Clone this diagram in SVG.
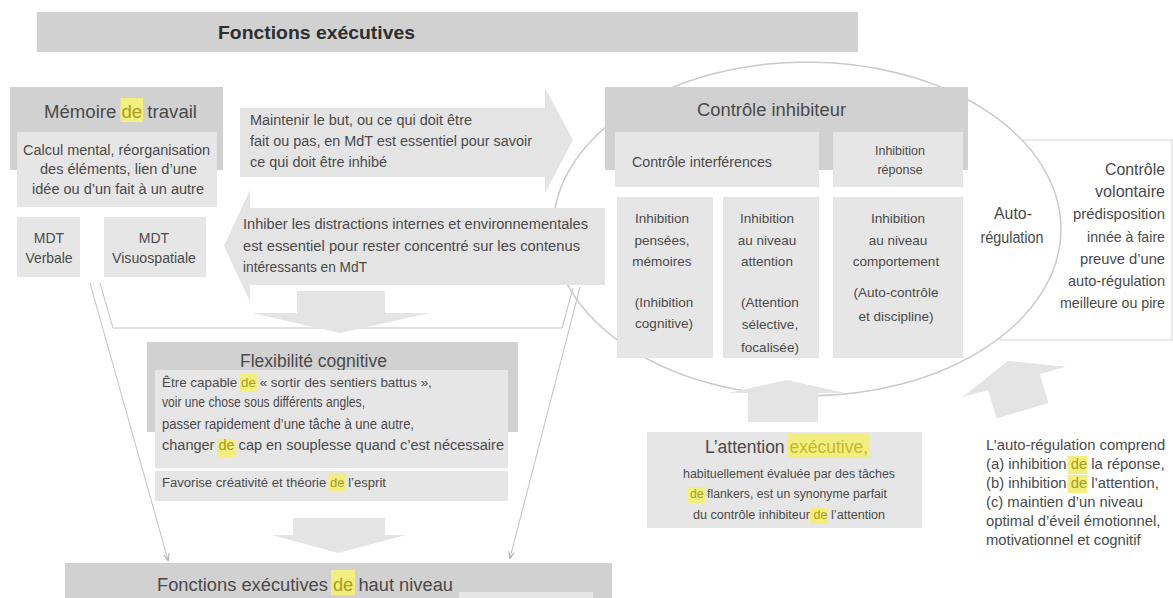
<svg xmlns="http://www.w3.org/2000/svg" width="1173" height="598" viewBox="0 0 1173 598">
<defs>
<style>
text{font-family:"Liberation Sans",Arial,sans-serif;fill:#4a4a4a;font-size:14px}
.dark{fill:#d1d1d1}
.light{fill:#e6e6e6}
.blk{fill:#e4e4e4}
.hl{fill:#f3ee80}
.hlt{fill:#a99d1c}
.h17{font-size:18px}
.h15{font-size:16px}
.h14{font-size:14.5px}
.h12{font-size:12.5px}
.m{font-size:13.5px}
.s11{font-size:12.5px}
.n{font-size:14.8px}
.c{text-anchor:middle}
.e{text-anchor:end}
.thin{fill:none;stroke:#c2c2c2;stroke-width:1}
</style>
<marker id="ah" viewBox="0 0 10 10" refX="9" refY="5" markerWidth="7" markerHeight="7" orient="auto-start-reverse" markerUnits="userSpaceOnUse">
<path d="M0,1 L10,5 L0,9" fill="none" stroke="#b0b0b0" stroke-width="1.5"/>
</marker>
</defs>
<rect width="1173" height="598" fill="#ffffff"/>

<g id="controle-volontaire">
<rect x="1000" y="140" width="172" height="200" fill="#ffffff" stroke="#d6d6d6" stroke-width="1"/>
</g>

<g id="autoregulation-ellipse">
<ellipse cx="807" cy="229" rx="254" ry="167" fill="#ffffff" stroke="#cacaca" stroke-width="1.5"/>
<text class="c h15" x="1013" y="219" textLength="38" lengthAdjust="spacingAndGlyphs">Auto-</text>
<text class="c h15" x="1012" y="243" textLength="63" lengthAdjust="spacingAndGlyphs">régulation</text>
</g>

<g id="controle-volontaire-text">
<text class="e" style="font-size:17px" x="1165" y="175" textLength="60" lengthAdjust="spacingAndGlyphs">Contrôle</text>
<text class="e" style="font-size:17px" x="1165" y="197" textLength="70" lengthAdjust="spacingAndGlyphs">volontaire</text>
<text class="e h14" x="1165" y="219" textLength="92" lengthAdjust="spacingAndGlyphs">prédisposition</text>
<text class="e h14" x="1165" y="242" textLength="78" lengthAdjust="spacingAndGlyphs">innée à faire</text>
<text class="e h14" x="1165" y="264" textLength="85" lengthAdjust="spacingAndGlyphs">preuve d’une</text>
<text class="e h14" x="1165" y="286" textLength="97" lengthAdjust="spacingAndGlyphs">auto-régulation</text>
<text class="e h14" x="1165" y="308" textLength="105" lengthAdjust="spacingAndGlyphs">meilleure ou pire</text>
</g>

<g id="connectors">
<path class="thin" d="M100,283 L113,328 L562,328 L573,288"/>
<line class="thin" x1="90" y1="283" x2="168" y2="560" marker-end="url(#ah)"/>
<line class="thin" x1="580" y1="287" x2="510" y2="558" marker-end="url(#ah)"/>
<polygon class="blk" points="297,291 385,291 385,313 430,313 340,333 252,313 297,313"/>
<polygon class="blk" points="293,518 385,518 385,535 406,535 338,553 272,535 293,535"/>
<polygon class="blk" points="748,422 748,393 728,393 787,380 845,393 818,393 818,422"/>
<polygon class="blk" transform="rotate(-16.5 1014 382)" points="960,382 1014,360 1068,382 1041,382 1041,412 987,412 987,382"/>
</g>

<g id="title">
<rect x="37" y="12" width="821" height="40" class="dark"/>
<text x="218" y="39" font-weight="bold" style="font-size:18.5px;fill:#2e2e2e" textLength="197" lengthAdjust="spacingAndGlyphs">Fonctions exécutives</text>
</g>

<g id="memoire-travail">
<rect x="10" y="87" width="213" height="83" class="dark"/>
<rect x="120.5" y="98" width="22.5" height="24" class="hl"/>
<text class="h17" x="44" y="118" textLength="153" lengthAdjust="spacingAndGlyphs">Mémoire <tspan class="hlt">de</tspan> travail</text>
<rect x="17" y="132" width="200" height="75" class="light"/>
<text x="23" y="155" textLength="187" lengthAdjust="spacingAndGlyphs">Calcul mental, réorganisation</text>
<text x="40" y="174" textLength="157" lengthAdjust="spacingAndGlyphs">des éléments, lien d’une</text>
<text x="32" y="194" textLength="172" lengthAdjust="spacingAndGlyphs">idée ou d’un fait à un autre</text>
</g>

<g id="mdt-verbale">
<rect x="17" y="217" width="63" height="60" class="light"/>
<text class="c" x="49" y="243">MDT</text>
<text class="c" x="49" y="263" textLength="47" lengthAdjust="spacingAndGlyphs">Verbale</text>
</g>

<g id="mdt-visuospatiale">
<rect x="104" y="217" width="102" height="60" class="light"/>
<text class="c" x="154" y="243">MDT</text>
<text class="c" x="154" y="263" textLength="84" lengthAdjust="spacingAndGlyphs">Visuospatiale</text>
</g>

<g id="arrow-maintenir">
<polygon class="blk" points="240,108 545,108 545,88 573,140 545,193 545,177 240,177"/>
<text x="250" y="125" textLength="222" lengthAdjust="spacingAndGlyphs">Maintenir le but, ou ce qui doit être</text>
<text x="250" y="146" textLength="282" lengthAdjust="spacingAndGlyphs">fait ou pas, en MdT est essentiel pour savoir</text>
<text x="250" y="167" textLength="137" lengthAdjust="spacingAndGlyphs">ce qui doit être inhibé</text>
</g>

<g id="arrow-inhiber">
<polygon class="blk" points="224,246 250,190 250,208 605,208 605,285 250,285 250,302"/>
<text x="243" y="229" textLength="345" lengthAdjust="spacingAndGlyphs">Inhiber les distractions internes et environnementales</text>
<text x="243" y="251" textLength="337" lengthAdjust="spacingAndGlyphs">est essentiel pour rester concentré sur les contenus</text>
<text x="243" y="272" textLength="124" lengthAdjust="spacingAndGlyphs">intéressants en MdT</text>
</g>

<g id="controle-inhibiteur">
<rect x="605" y="87" width="363" height="83" class="dark"/>
<text class="h17" x="697" y="116" textLength="149" lengthAdjust="spacingAndGlyphs">Contrôle inhibiteur</text>
</g>

<g id="controle-interferences">
<rect x="615" y="132" width="204" height="55" class="light"/>
<text x="632" y="167" textLength="140" lengthAdjust="spacingAndGlyphs">Contrôle interférences</text>
</g>

<g id="inhibition-reponse">
<rect x="833" y="132" width="130" height="55" class="light"/>
<text class="c h12" x="900" y="155">Inhibition</text>
<text class="c h12" x="900" y="174">réponse</text>
</g>

<g id="inhibition-pensees">
<rect x="617" y="197" width="96" height="161" class="light"/>
<text class="c m" x="662" y="223">Inhibition</text>
<text class="c m" x="662" y="245">pensées,</text>
<text class="c m" x="662" y="266">mémoires</text>
<text class="c m" x="664" y="307">(Inhibition</text>
<text class="c m" x="664" y="328">cognitive)</text>
</g>

<g id="inhibition-attention">
<rect x="723" y="197" width="96" height="161" class="light"/>
<text class="c m" x="767" y="223">Inhibition</text>
<text class="c m" x="767" y="245">au niveau</text>
<text class="c m" x="767" y="266">attention</text>
<text class="c m" x="770" y="307">(Attention</text>
<text class="c m" x="770" y="329">sélective,</text>
<text class="c m" x="770" y="352">focalisée)</text>
</g>

<g id="inhibition-comportement">
<rect x="833" y="197" width="130" height="161" class="light"/>
<text class="c m" x="898" y="223">Inhibition</text>
<text class="c m" x="898" y="245">au niveau</text>
<text class="c m" x="896" y="266">comportement</text>
<text class="c m" x="896" y="297">(Auto-contrôle</text>
<text class="c m" x="896" y="321">et discipline)</text>
</g>

<g id="flexibilite-cognitive">
<rect x="147" y="342" width="371" height="90" class="dark"/>
<text class="h17" x="240" y="367" textLength="147" lengthAdjust="spacingAndGlyphs">Flexibilité cognitive</text>
<rect x="155" y="370" width="353" height="98" class="light"/>
<rect x="239.5" y="374" width="18" height="18" class="hl"/>
<rect x="217" y="439" width="19" height="18" class="hl"/>
<text style="font-size:13.42px" x="162" y="387">Être capable</text>
<text class="hlt" style="font-size:13.42px" x="241.1" y="387">de</text>
<text style="font-size:13.42px" x="259.7" y="387">« sortir des sentiers battus »,</text>
<text x="162" y="407" textLength="203" lengthAdjust="spacingAndGlyphs">voir une chose sous différents angles,</text>
<text x="162" y="429" textLength="252" lengthAdjust="spacingAndGlyphs">passer rapidement d’une tâche à une autre,</text>
<text x="162" y="450" textLength="342" lengthAdjust="spacingAndGlyphs">changer <tspan class="hlt">de</tspan> cap en souplesse quand c’est nécessaire</text>
</g>

<g id="favorise">
<rect x="155" y="471" width="353" height="30" class="light"/>
<rect x="328.5" y="473" width="17.5" height="18" class="hl"/>
<text style="font-size:13.09px" x="162" y="487">Favorise créativité et théorie</text>
<text class="hlt" style="font-size:13.09px" x="330" y="487">de</text>
<text style="font-size:13.09px" x="348.2" y="487">l’esprit</text>
</g>

<g id="attention-executive">
<rect x="647" y="432" width="275" height="96" class="light"/>
<rect x="788" y="433" width="82" height="25" class="hl"/>
<rect x="688" y="487" width="17" height="16" class="hl"/>
<rect x="810" y="508" width="17.5" height="16" class="hl"/>
<text class="h17" x="705" y="453" textLength="163" lengthAdjust="spacingAndGlyphs">L’attention <tspan style="fill:#c4b92a">exécutive,</tspan></text>
<text class="s11" x="683" y="478" textLength="212" lengthAdjust="spacingAndGlyphs">habituellement évaluée par des tâches</text>
<text class="s11" x="690" y="498" textLength="197" lengthAdjust="spacingAndGlyphs"><tspan class="hlt">de</tspan> flankers, est un synonyme parfait</text>
<text class="s11" x="693" y="519" textLength="192" lengthAdjust="spacingAndGlyphs">du contrôle inhibiteur <tspan class="hlt">de</tspan> l’attention</text>
</g>

<g id="autoregulation-note">
<rect x="1067.5" y="456" width="20" height="18" class="hl"/>
<rect x="1067.5" y="475" width="20" height="18" class="hl"/>
<text class="n" x="986" y="450">L’auto-régulation comprend</text>
<text class="n" x="986" y="469">(a) inhibition <tspan class="hlt">de</tspan> la réponse,</text>
<text class="n" x="986" y="488">(b) inhibition <tspan class="hlt">de</tspan> l’attention,</text>
<text class="n" x="986" y="507">(c) maintien d’un niveau</text>
<text class="n" x="986" y="526">optimal d’éveil émotionnel,</text>
<text class="n" x="986" y="545">motivationnel et cognitif</text>
</g>

<g id="haut-niveau">
<rect x="65" y="563" width="547" height="35" class="dark"/>
<rect x="459" y="592" width="134" height="6" class="light"/>
<rect x="331" y="570" width="24" height="25" class="hl"/>
<text class="h17" x="157" y="591" textLength="296" lengthAdjust="spacingAndGlyphs">Fonctions exécutives <tspan class="hlt">de</tspan> haut niveau</text>
</g>
</svg>
